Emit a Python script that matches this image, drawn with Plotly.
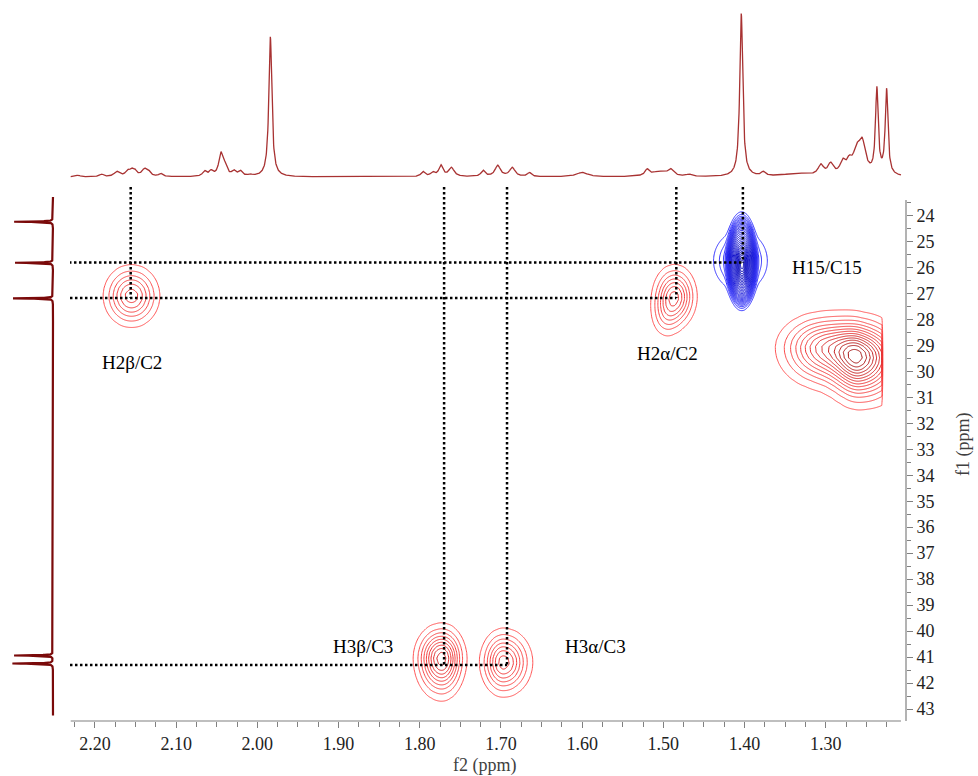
import numpy as np
import plotly.graph_objects as go

# ---------------- 1H spectrum (top projection) ----------------
h_shift = [2.221, 2.192, 2.173, 2.160, 2.155, 2.151, 2.139, 2.134, 2.119,
           2.065, 2.057, 2.045, 2.040, 2.029, 2.021, 2.009, 1.984,
           1.796, 1.784, 1.774, 1.761, 1.722, 1.704, 1.686, 1.665, 1.600,
           1.520, 1.505, 1.491, 1.468, 1.404, 1.377,
           1.335, 1.306, 1.294, 1.279, 1.271, 1.262, 1.255, 1.237, 1.225]
h_height = [1.5, 2.5, 5, 5, 5, 5, 7, 4, 3,
            5, 5, 22, 9, 5, 5, 1.5, 140,
            5, 4, 11, 9, 6, 11, 9, 4, 4.5,
            6, 5, 6, 2, 163, 4,
            3, 10, 11, 12, 11, 20, 30, 85, 85]
h_hwhm = [0.004, 0.003, 0.004, 0.003, 0.003, 0.003, 0.004, 0.003, 0.003,
          0.003, 0.003, 0.003, 0.003, 0.003, 0.003, 0.003, 0.0022,
          0.003, 0.003, 0.003, 0.004, 0.003, 0.004, 0.004, 0.003, 0.008,
          0.003, 0.012, 0.004, 0.004, 0.0022, 0.003,
          0.02, 0.004, 0.004, 0.004, 0.004, 0.005, 0.005, 0.002, 0.002]

# ---------------- 13C spectrum (left projection) ----------------
c_shift = [24.24, 25.82, 27.19, 40.94, 41.25]
c_height = [39, 38, 40, 39, 41]
c_hwhm = 0.012

# ---------------- HSQC cross peaks (f2 = 1H, f1 = 13C) ----------------
# positive phase (red): centre, amplitude (in contour steps), widths
pos_f2 = [2.155, 1.486, 1.497, 1.773, 1.697, 1.258, 1.300]
pos_f1 = [27.10, 27.12, 27.90, 41.05, 41.20, 29.50, 29.10]
pos_amp = [6.6, 7.2, 2.0, 9.6, 7.6, 11.6, 8.5]
pos_sx_hi = [0.018, 0.014, 0.011, 0.0165, 0.0145, 0.020, 0.030]
pos_sx_lo = [0.018, 0.014, 0.011, 0.0145, 0.018, 0.030, 0.030]
pos_sy_up = [0.62, 0.62, 0.50, 0.64, 0.65, 0.75, 0.68]
pos_sy_dn = [0.62, 0.62, 0.50, 0.77, 0.665, 0.89, 0.78]
# negative phase (blue): broad base, steep-edged core, sharp centre
neg_f2 = [1.4035, 1.405, 1.403]
neg_f1 = [25.85, 25.75, 25.95]
neg_amp = [14.0, 6.0, 10.0]
neg_sx = [0.0152, 0.0175, 0.0049]
neg_sy_up = [1.50, 0.607, 0.56]
neg_sy_dn = [1.36, 0.607, 0.56]
neg_pow = [6, 2, 2]
f2_limit = 1.2295   # edge of the processed f2 region

# assignments
lab_text = ["H2β/C2", "H2α/C2", "H15/C15", "H3β/C3", "H3α/C3"]
lab_f2 = [2.155, 1.495, 1.299, 1.870, 1.583]
lab_f1 = [29.67, 29.33, 25.99, 40.60, 40.58]

# correlation guide lines (proton shift, carbon shift)
corr_f2 = [2.156, 1.484, 1.402, 1.770, 1.6925]
corr_f1 = [27.18, 27.18, 25.81, 41.31, 41.31]

x_major = [2.20, 2.10, 2.00, 1.90, 1.80, 1.70, 1.60, 1.50, 1.40, 1.30]
y_major = list(range(24, 44))

# ---------------- geometry ----------------
W, H = 978, 776
MR, MB = 72, 55
PW, PH = W - MR, H - MB


def fx(p):
    return p / PW


def fy(p):
    return (PH - p) / PH


X_RANGE = [2.2517, 1.2011]
Y_RANGE = [43.462, 22.903]
X_AXIS_END = [2.2299, 1.2073]
Y_AXIS_END = [23.40, 43.462]


def shape2d(F2, F1, x0, y0, a, sx_hi, sx_lo, sy_up, sy_dn, power=2):
    """Elliptical (super-)Gaussian cross peak with separate half-widths per side."""
    sx = np.where(F2 > x0, sx_hi, sx_lo)
    sy = np.where(F1 < y0, sy_up, sy_dn)
    r = np.sqrt(((F2 - x0) / sx) ** 2 + ((F1 - y0) / sy) ** 2)
    return a * np.exp(-0.5 * r ** power)


def red_surface(F2, F1):
    z = np.zeros_like(F2)
    for p in zip(pos_f2, pos_f1, pos_amp, pos_sx_hi, pos_sx_lo, pos_sy_up, pos_sy_dn):
        z += shape2d(F2, F1, *p)
    z[F2 < f2_limit] = 0.0
    return z


def blue_surface(F2, F1):
    z = np.zeros_like(F2)
    for x0, y0, a, sx, su, sd, pw in zip(neg_f2, neg_f1, neg_amp, neg_sx,
                                         neg_sy_up, neg_sy_dn, neg_pow):
        z += shape2d(F2, F1, x0, y0, a, sx, sx, su, sd, pw)
    return z


fig = go.Figure()

# ---- contour windows ----
red_windows = [(2.215, 2.095, 24.6, 29.8), (1.545, 1.425, 24.6, 29.8),
               (1.845, 1.625, 38.4, 43.4), (1.420, 1.222, 26.4, 32.8)]
for x_hi, x_lo, y_lo, y_hi in red_windows:
    gx = np.arange(x_hi, x_lo, -0.0015)
    gy = np.arange(y_lo, y_hi, 0.22)
    F2, F1 = np.meshgrid(gx, gy)
    fig.add_trace(go.Contour(
        x=gx, y=gy, z=red_surface(F2, F1), xaxis="x", yaxis="y",
        autocontour=False,
        contours=dict(start=1, end=14, size=1, coloring="lines"),
        colorscale=[[0, "#FF5252"], [0.45, "#EE3030"], [1, "#A51515"]],
        zmin=1, zmax=14, zauto=False, showscale=False,
        line=dict(width=1, smoothing=0.6), hoverinfo="skip"))

gx = np.arange(1.462, 1.345, -0.001)
gy = np.arange(23.2, 28.6, 0.08)
F2, F1 = np.meshgrid(gx, gy)
fig.add_trace(go.Contour(
    x=gx, y=gy, z=blue_surface(F2, F1), xaxis="x", yaxis="y",
    autocontour=False,
    contours=dict(start=1, end=30, size=1, coloring="lines"),
    colorscale=[[0, "#3434FF"], [1, "#0000B0"]],
    zmin=1, zmax=30, zauto=False, showscale=False,
    line=dict(width=1, smoothing=0.6), hoverinfo="skip"))

# ---- correlation guide lines ----
dot = dict(color="black", width=2.5, dash="2.5px,2.5px")
for f2v, f1v in zip(corr_f2, corr_f1):
    fig.add_trace(go.Scatter(x=[f2v, f2v], y=[Y_RANGE[1], f1v], mode="lines",
                             line=dot, xaxis="x", yaxis="y", hoverinfo="skip",
                             showlegend=False))
h_levels = sorted(set(corr_f1))
for f1v in h_levels:
    right = min(f2v for f2v, c in zip(corr_f2, corr_f1) if c == f1v)
    left = 2.2505 if f1v == min(h_levels) else 2.2431
    fig.add_trace(go.Scatter(x=[left, right], y=[f1v, f1v], mode="lines",
                             line=dot, xaxis="x", yaxis="y", hoverinfo="skip",
                             showlegend=False))

# ---- 1H projection ----
h_axis = np.linspace(X_AXIS_END[0], X_AXIS_END[1], 3000)
h_trace = np.zeros_like(h_axis)
for s, a, w in zip(h_shift, h_height, h_hwhm):
    h_trace += a * w ** 2 / ((h_axis - s) ** 2 + w ** 2)
fig.add_trace(go.Scatter(x=h_axis, y=h_trace, mode="lines",
                         line=dict(color="#A83232", width=1.3),
                         xaxis="x2", yaxis="y2", hoverinfo="skip", showlegend=False))

# ---- 13C projection ----
c_axis = np.linspace(23.29, 43.25, 8000)
c_trace = np.zeros_like(c_axis)
for s, a in zip(c_shift, c_height):
    c_trace += a * c_hwhm ** 2 / ((c_axis - s) ** 2 + c_hwhm ** 2)
fig.add_trace(go.Scatter(x=c_trace, y=c_axis, mode="lines",
                         line=dict(color="#7A0A0A", width=2.2),
                         xaxis="x3", yaxis="y", hoverinfo="skip", showlegend=False))

# ---- labels ----
for t, xv, yv in zip(lab_text, lab_f2, lab_f1):
    fig.add_annotation(x=xv, y=yv, xref="x", yref="y", text=t, showarrow=False,
                       font=dict(family="Liberation Serif", size=19, color="black"))

fig.add_annotation(x=fx(485), y=fy(765), xref="paper", yref="paper",
                   xanchor="center", yanchor="middle",
                   text="f2 (ppm)", showarrow=False,
                   font=dict(family="Liberation Serif", size=18, color="#404040"))
fig.add_annotation(x=fx(964), y=fy(445), xref="paper", yref="paper",
                   xanchor="center", yanchor="middle",
                   text="f1 (ppm)", showarrow=False, textangle=-90,
                   font=dict(family="Liberation Serif", size=18, color="#404040"))

# ---- axis lines ----
axis_col = "#808080"
fig.add_shape(type="line", xref="x", yref="paper", x0=X_AXIS_END[0], x1=X_AXIS_END[1],
              y0=0, y1=0, line=dict(color=axis_col, width=1.2))
fig.add_shape(type="line", xref="paper", yref="y", x0=1, x1=1,
              y0=Y_AXIS_END[0], y1=Y_AXIS_END[1], line=dict(color=axis_col, width=1.2))

x_minor = [round(2.225 - 0.025 * i, 3) for i in range(41)]
x_minor = [v for v in x_minor if all(abs(v - m) > 1e-6 for m in x_major)]
y_minor = [v + 0.5 for v in range(23, 43)]

tick_font = dict(family="Liberation Serif", size=18, color="#222222")

fig.update_layout(
    width=W, height=H,
    margin=dict(l=0, r=MR, t=0, b=MB),
    paper_bgcolor="white", plot_bgcolor="white",
    showlegend=False,
    xaxis=dict(domain=[fx(53), 1], range=X_RANGE, anchor="y",
               showgrid=False, zeroline=False, showline=False,
               tickmode="array", tickvals=x_major, ticktext=[f"{v:.2f}" for v in x_major],
               ticks="outside", ticklen=6, tickcolor=axis_col, tickwidth=1.2,
               tickfont=tick_font,
               minor=dict(tickmode="array", tickvals=x_minor, ticks="outside",
                          ticklen=5, tickcolor=axis_col, tickwidth=1.2, showgrid=False)),
    yaxis=dict(domain=[0, fy(187)], range=Y_RANGE, anchor="x", side="right",
               showgrid=False, zeroline=False, showline=False,
               tickmode="array", tickvals=y_major, ticktext=[str(v) for v in y_major],
               ticks="outside", ticklen=6, tickcolor=axis_col, tickwidth=1.2,
               tickfont=tick_font,
               minor=dict(tickmode="array", tickvals=y_minor, ticks="outside",
                          ticklen=4, tickcolor=axis_col, tickwidth=1.2, showgrid=False)),
    xaxis2=dict(domain=[fx(53), 1], range=X_RANGE, anchor="y2", visible=False),
    yaxis2=dict(domain=[fy(180), fy(5)], range=[-3, 172], anchor="x2", visible=False),
    xaxis3=dict(domain=[0, fx(70)], range=[53, -17], anchor="y", visible=False),
)

fig.write_html("out.html")
